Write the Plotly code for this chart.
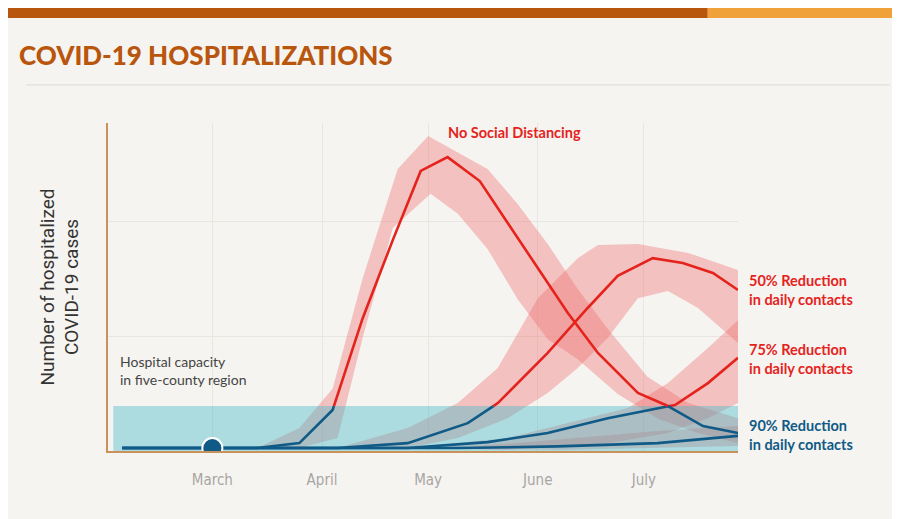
import plotly.graph_objects as go

# days since March 1, arbitrary hospitalization units (0-100)
months = ["March", "April", "May", "June", "July"]
month_days = [0, 31, 61, 92, 122]
capacity = 13.7

nsd_x = [-25.5, 12.7, 24.6, 34, 42.5, 51, 58.9, 66.5, 75.6, 83.5, 92, 100.5, 109, 120.3, 128.8, 138.7, 148.6]
nsd_y = [0.9, 0.9, 2.4, 12.5, 40.5, 64.3, 85.4, 89.6, 82.3, 69.5, 55.8, 42.1, 29.9, 17.7, 13.7, 7.6, 5.5]
nsd_up_x = [12.7, 24.6, 34, 42.5, 52.4, 61, 77.8, 86.3, 94.8, 103.3, 111.8, 123, 134.5, 148.6]
nsd_up_y = [0.9, 7, 19, 52.7, 86, 96, 86, 75.3, 63.1, 49.4, 37.2, 22.6, 14.6, 10]
nsd_lo_x = [24.6, 35.4, 42.5, 51, 61.7, 69.4, 77.8, 86.3, 94.8, 103.3, 114.6, 126, 137.3, 148.6]
nsd_lo_y = [0.9, 4, 34.5, 68, 78.4, 72.3, 61.6, 46.3, 34.1, 28, 17.4, 9.8, 5.5, 2.4]

r50_x = [-25.5, 12.7, 35.4, 55.2, 72.2, 80.7, 94.8, 106.1, 114.6, 124.5, 133, 141.5, 148.6]
r50_y = [0.9, 0.9, 0.9, 2.4, 8.5, 14.6, 29.9, 43.6, 53.4, 58.8, 57.3, 54.3, 49.1]
r50_up_x = [35.4, 55.2, 69.4, 80.7, 92, 103.3, 109, 120.3, 134.5, 148.6]
r50_up_y = [0.9, 7, 14.6, 25.3, 46.6, 58.8, 62.8, 63.1, 60.4, 55.2]
r50_lo_x = [55.2, 69.4, 83.5, 94.8, 103.3, 111.8, 120.3, 128.8, 137.3, 148.6]
r50_lo_y = [0.9, 4, 10, 17.7, 25.3, 34.5, 46.6, 48.8, 43.6, 32.9]

r75_x = [-25.5, 26.9, 55.2, 77.8, 94.8, 111.8, 123.1, 130.8, 140.1, 148.6]
r75_y = [0.9, 0.9, 0.9, 2.7, 5.5, 10, 12.5, 14, 20.7, 28.4]
r75_up_x = [55.2, 83.5, 100.5, 117.5, 128.8, 140.1, 148.6]
r75_up_y = [0.9, 4, 8.5, 13.1, 20.7, 31.4, 39.9]
r75_lo_x = [83.5, 111.8, 128.8, 140.1, 148.6]
r75_lo_y = [0.3, 2.4, 5.5, 10, 14.6]

r90_x = [-25.5, 69.4, 97.6, 125.9, 148.6]
r90_y = [0.9, 0.9, 1.4, 2.4, 4.6]
r90_up_x = [69.4, 97.6, 125.9, 148.6]
r90_up_y = [0.9, 3.4, 6.1, 7.6]
r90_lo_x = [97.6, 148.6]
r90_lo_y = [0.3, 1.5]

RED = "#e5231d"
BLUE = "#0f5a86"
BAND = "rgba(240,110,110,0.38)"

fig = go.Figure()


def band(ux, uy, lx, ly):
    fig.add_trace(go.Scatter(x=ux + lx[::-1], y=uy + ly[::-1], fill="toself",
                             fillcolor=BAND, line=dict(width=0), mode="lines",
                             hoverinfo="skip", showlegend=False))


def split_line(xs, ys):
    # break the line where it crosses capacity: blue below, red above
    segs = []
    cur_x, cur_y = [xs[0]], [ys[0]]
    cur_above = ys[0] > capacity
    for i in range(1, len(xs)):
        above = ys[i] > capacity
        if above != cur_above:
            t = (capacity - ys[i - 1]) / (ys[i] - ys[i - 1])
            cx = xs[i - 1] + t * (xs[i] - xs[i - 1])
            cur_x.append(cx)
            cur_y.append(capacity)
            segs.append((cur_x, cur_y, cur_above))
            cur_x, cur_y = [cx], [capacity]
            cur_above = above
        cur_x.append(xs[i])
        cur_y.append(ys[i])
    segs.append((cur_x, cur_y, cur_above))
    for sx, sy, ab in segs:
        fig.add_trace(go.Scatter(x=sx, y=sy, mode="lines",
                                 line=dict(color=RED if ab else BLUE, width=2.6),
                                 hoverinfo="skip", showlegend=False))


band(nsd_up_x, nsd_up_y, nsd_lo_x, nsd_lo_y)
band(r50_up_x, r50_up_y, r50_lo_x, r50_lo_y)
band(r75_up_x, r75_up_y, r75_lo_x, r75_lo_y)
band(r90_up_x, r90_up_y, r90_lo_x, r90_lo_y)

# hospital capacity area
fig.add_trace(go.Scatter(x=[-28, 148.6, 148.6, -28], y=[0, 0, capacity, capacity],
                         fill="toself", fillcolor="rgba(70,185,200,0.42)",
                         line=dict(width=0), mode="lines", hoverinfo="skip",
                         showlegend=False))

for xs, ys in [(r90_x, r90_y), (r75_x, r75_y), (r50_x, r50_y), (nsd_x, nsd_y)]:
    split_line(xs, ys)

fig.add_trace(go.Scatter(x=[0], y=[0.9], mode="markers",
                         marker=dict(size=20, color=BLUE, line=dict(color="white", width=2)),
                         hoverinfo="skip", showlegend=False))

fig.update_xaxes(range=[-29.5, 148.6], tickvals=month_days, ticktext=months,
                 showgrid=True, gridcolor="#e9e6e1", zeroline=False,
                 showline=True, linecolor="#c8925a", linewidth=2, ticks="",
                 tickfont=dict(family="DejaVu Sans Condensed", size=15, color="#a8a6a3"),
                 ticklabelstandoff=14)
fig.update_yaxes(range=[0, 100], tickvals=[35, 70], showticklabels=False,
                 showgrid=True, gridcolor="#e9e6e1", zeroline=False,
                 showline=True, linecolor="#c8925a", linewidth=2,
                 title=dict(text="Number of hospitalized<br>COVID-19 cases",
                            font=dict(family="Roboto", size=19, color="#333"), standoff=22))

fig.add_annotation(x=66, y=97, text="<b>No Social Distancing</b>", showarrow=False,
                   xanchor="left", font=dict(family="Lato", size=14.5, color=RED))
fig.add_annotation(x=1.015, xref="paper", y=49, text="<b>50% Reduction<br>in daily contacts</b>",
                   showarrow=False, xanchor="left", align="left",
                   font=dict(family="Lato", size=14.5, color=RED))
fig.add_annotation(x=1.015, xref="paper", y=28, text="<b>75% Reduction<br>in daily contacts</b>",
                   showarrow=False, xanchor="left", align="left",
                   font=dict(family="Lato", size=14.5, color=RED))
fig.add_annotation(x=1.015, xref="paper", y=5, text="<b>90% Reduction<br>in daily contacts</b>",
                   showarrow=False, xanchor="left", align="left",
                   font=dict(family="Lato", size=14.5, color=BLUE))
fig.add_annotation(x=0.016, xref="paper", y=18.5, text="Hospital capacity<br>in five-county region",
                   showarrow=False, xanchor="left", yanchor="bottom", align="left",
                   font=dict(family="Lato", size=14, color="#444"))

fig.add_annotation(x=-0.145, y=1.207, xref="paper", yref="paper",
                   text="<b>COVID-19 HOSPITALIZATIONS</b>", showarrow=False,
                   xanchor="left", yanchor="middle",
                   font=dict(family="Lato Black, Lato", size=26, color="#b9560e"))

fig.add_shape(type="rect", xref="paper", yref="paper", x0=-0.17, x1=0.952, y0=1.32, y1=1.36,
              fillcolor="#b9560e", line_width=0)
fig.add_shape(type="rect", xref="paper", yref="paper", x0=0.952, x1=1.3, y0=1.32, y1=1.36,
              fillcolor="#f0a13a", line_width=0)
fig.add_shape(type="line", xref="paper", yref="paper", x0=-0.13, x1=1.241, y0=1.116, y1=1.116,
              line=dict(color="#dddad5", width=1))

fig.update_layout(width=900, height=519, paper_bgcolor="#f6f4f0", plot_bgcolor="#f6f4f0",
                  margin=dict(l=100, r=170, t=115, b=76))
fig.write_html("out.html")
